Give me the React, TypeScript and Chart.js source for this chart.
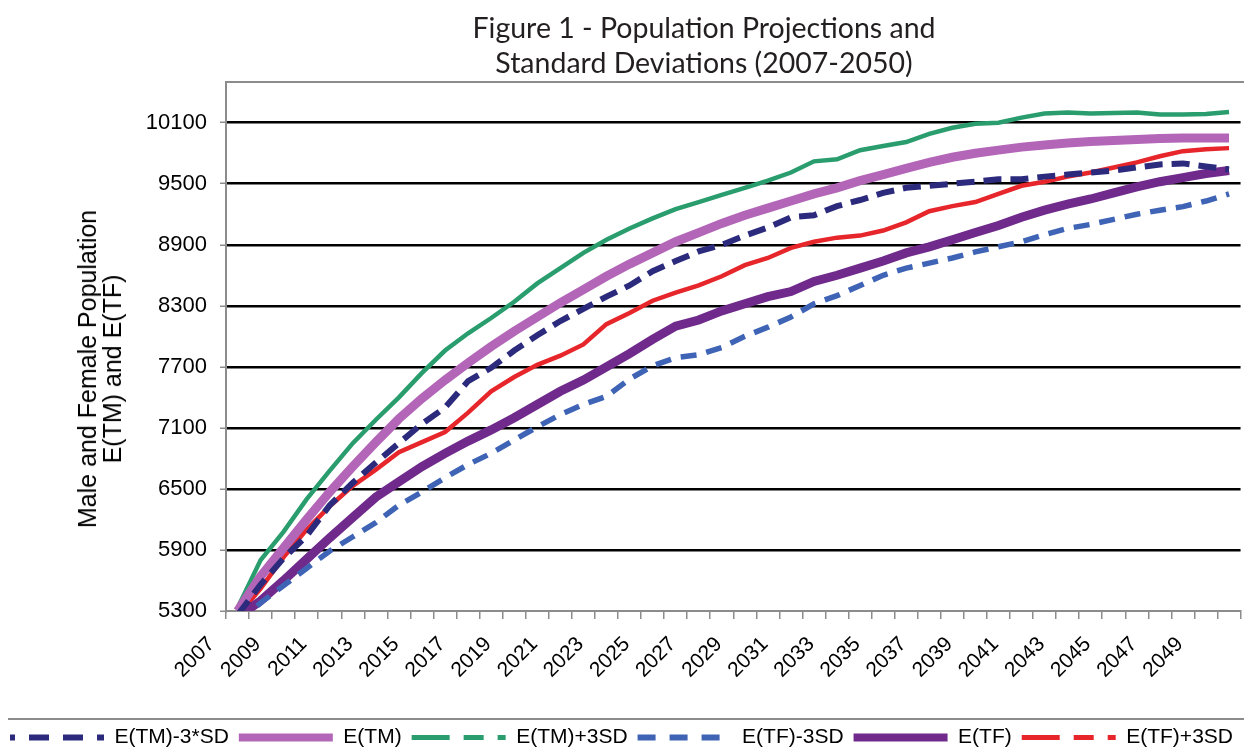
import React, { useEffect, useRef } from 'react';
import { Chart, registerables } from 'chart.js';

Chart.register(...registerables);

const YEARS = [
  '2007', '2008', '2009', '2010', '2011', '2012', '2013', '2014', '2015', '2016', '2017',
  '2018', '2019', '2020', '2021', '2022', '2023', '2024', '2025', '2026', '2027', '2028',
  '2029', '2030', '2031', '2032', '2033', '2034', '2035', '2036', '2037', '2038', '2039',
  '2040', '2041', '2042', '2043', '2044', '2045', '2046', '2047', '2048', '2049', '2050',
];

const TM_MINUS_3SD = [
  5260, 5560, 5820, 6040, 6340, 6560, 6760, 6950, 7140, 7300, 7560,
  7690, 7860, 8010, 8150, 8270, 8390, 8500, 8640, 8740, 8835, 8900,
  8990, 9070, 9170, 9190, 9280, 9340, 9410, 9460, 9480, 9500, 9520,
  9545, 9545, 9570, 9590, 9610, 9630, 9660, 9690, 9700, 9670, 9640,
];
const TM = [
  5300, 5640, 5920, 6200, 6470, 6720, 6960, 7190, 7390, 7570, 7740,
  7900, 8050, 8190, 8330, 8460, 8590, 8710, 8820, 8930, 9020, 9110,
  9190, 9260, 9330, 9400, 9460, 9530, 9590, 9650, 9710, 9760, 9800,
  9830, 9860, 9880, 9900, 9915, 9925, 9935, 9945, 9950, 9950, 9950,
];
const TM_PLUS_3SD = [
  5330, 5800, 6080, 6400, 6680, 6950, 7180, 7400, 7640, 7860, 8030,
  8180, 8340, 8520, 8670, 8820, 8950, 9060, 9160, 9250, 9320, 9390,
  9460, 9530, 9610, 9720, 9740, 9830, 9870, 9910, 9990, 10050, 10090,
  10100, 10150, 10190, 10200, 10190, 10195, 10200, 10180, 10180, 10185, 10205,
];
const TF_MINUS_3SD = [
  5180, 5380, 5550, 5720, 5890, 6030, 6170, 6340, 6470, 6610, 6740,
  6850, 6980, 7110, 7230, 7330, 7410, 7580, 7710, 7790, 7820, 7890,
  8000, 8090, 8190, 8320, 8400, 8500, 8600, 8670, 8720, 8770, 8830,
  8880, 8930, 9000, 9060, 9100, 9150, 9200, 9240, 9275, 9330, 9400,
];
const TF = [
  5240, 5400, 5600, 5810, 6020, 6220, 6420, 6570, 6720, 6850, 6970,
  7080, 7200, 7330, 7460, 7570, 7700, 7830, 7970, 8100, 8160, 8250,
  8320, 8390, 8440, 8540, 8600, 8670, 8740, 8820, 8880, 8950, 9020,
  9090, 9170, 9240, 9300, 9350, 9410, 9470, 9520, 9560, 9600, 9630,
];
const TF_PLUS_3SD = [
  5250, 5520, 5830, 6100, 6330, 6530, 6690, 6860, 6960, 7060, 7250,
  7460, 7600, 7720, 7810, 7920, 8120, 8230, 8350, 8430, 8500, 8590,
  8700, 8770, 8870, 8930, 8970, 8990, 9040, 9120, 9230, 9280, 9320,
  9400, 9480, 9520, 9570, 9610, 9660, 9710, 9770, 9820, 9840, 9850,
];

const Y_TICKS = [5300, 5900, 6500, 7100, 7700, 8300, 8900, 9500, 10100];
const SERIES_NAMES = ['E(TM)-3*SD', 'E(TM)', 'E(TM)+3SD', 'E(TF)-3SD', 'E(TF)', 'E(TF)+3SD'];
const TITLE_LINES = ['Figure 1 - Population Projections and', 'Standard Deviations (2007-2050)'];
const Y_TITLE_LINES = ['Male and Female Population', 'E(TM) and E(TF)'];

const COLORS = ['#2b2a7c', '#b366b8', '#2a9d6e', '#3f64b6', '#702a8c', '#e6262b'];
const WIDTHS = [6, 9, 4.5, 5.5, 9, 4.5];
const DASHES: number[][] = [[18, 9], [], [], [16, 10], [], []];
const LEGEND_DASHES: number[][] = [
  [20, 14],
  [],
  [38, 14, 20, 14, 8, 20],
  [18, 14],
  [],
  [38, 14, 20, 14, 8, 20],
];
const LEGEND_DASH_OFFSETS = [15, 0, 0, 0, 0, 0];
const LEGEND_WIDTHS = [6, 8, 5, 6, 8, 5];

const AXIS_FONT = 'Liberation Sans, Arial, sans-serif';

const framePlugin = {
  id: 'frameLines',
  afterDraw(chart: any) {
    const { ctx, chartArea } = chart;
    ctx.save();
    ctx.strokeStyle = '#8c8c8c';
    ctx.lineWidth = 2;
    ctx.beginPath();
    ctx.moveTo(chartArea.left, chartArea.top);
    ctx.lineTo(chart.width, chartArea.top);
    ctx.stroke();
    const lg = chart.legend;
    if (lg) {
      ctx.beginPath();
      ctx.moveTo(8, lg.top + 2);
      ctx.lineTo(chart.width, lg.top + 2);
      ctx.stroke();
    }
    ctx.restore();
  },
};

export default function App() {
  const canvasRef = useRef<HTMLCanvasElement | null>(null);

  useEffect(() => {
    const canvas = canvasRef.current;
    if (!canvas) return;
    const series = [TM_MINUS_3SD, TM, TM_PLUS_3SD, TF_MINUS_3SD, TF, TF_PLUS_3SD];
    const chart = new Chart(canvas, {
      type: 'line',
      data: {
        labels: YEARS,
        datasets: series.map((d, i) => ({
          label: SERIES_NAMES[i],
          data: d,
          borderColor: COLORS[i],
          backgroundColor: COLORS[i],
          borderWidth: WIDTHS[i],
          borderDash: DASHES[i],
          pointRadius: 0,
          pointHoverRadius: 0,
          tension: 0,
          fill: false,
          clip: 0,
        })),
      },
      plugins: [framePlugin],
      options: {
        responsive: false,
        animation: false,
        devicePixelRatio: 1,
        layout: { padding: { left: 0, right: 13, top: 82, bottom: 0 } },
        plugins: {
          title: { display: false },
          tooltip: { enabled: false },
          legend: {
            display: true,
            position: 'bottom',
            align: 'start',
            labels: {
              usePointStyle: true,
              pointStyle: 'line',
              pointStyleWidth: 94,
              padding: 10,
              color: '#000',
              font: { family: AXIS_FONT, size: 21 },
              generateLabels: (ch: any) => {
                const items = Chart.defaults.plugins.legend.labels.generateLabels(ch);
                return items.map((it: any, i: number) => ({
                  ...it,
                  pointStyle: 'line',
                  lineDash: LEGEND_DASHES[i],
                  lineDashOffset: LEGEND_DASH_OFFSETS[i],
                  lineWidth: LEGEND_WIDTHS[i],
                  lineCap: 'butt',
                }));
              },
            },
          },
        },
        scales: {
          x: {
            type: 'category',
            offset: true,
            afterFit: (scale: any) => {
              scale.height = 106;
            },
            grid: {
              display: true,
              drawOnChartArea: false,
              drawTicks: true,
              tickLength: 8,
              color: '#8c8c8c',
              lineWidth: 1.5,
              offset: true,
            },
            border: { display: true, color: '#8c8c8c', width: 2 },
            ticks: {
              autoSkip: false,
              minRotation: 45,
              maxRotation: 45,
              padding: 13,
              labelOffset: -26,
              color: '#000',
              font: { family: AXIS_FONT, size: 21 },
              callback: (_v: any, idx: number) => (idx % 2 === 0 ? YEARS[idx] : ''),
            },
          },
          y: {
            type: 'linear',
            min: 5300,
            max: 10500,
            afterFit: (scale: any) => {
              scale.width = 226;
            },
            afterBuildTicks: (scale: any) => {
              scale.ticks = Y_TICKS.map((v) => ({ value: v }));
            },
            grid: {
              display: true,
              drawTicks: true,
              tickLength: 6,
              tickColor: '#8c8c8c',
              tickWidth: 1.5,
              lineWidth: 2.5,
              color: (ctx: any) => (ctx.tick && ctx.tick.value === 5300 ? 'rgba(0,0,0,0)' : '#000'),
            },
            border: { display: true, color: '#8c8c8c', width: 2 },
            ticks: {
              padding: 13,
              color: '#000',
              font: { family: AXIS_FONT, size: 22 },
              callback: (v: any) => String(v),
            },
          },
        },
      },
    } as any);
    return () => chart.destroy();
  }, []);

  return (
    <div
      style={{
        position: 'fixed',
        left: 0,
        top: 0,
        width: 1244,
        height: 747,
        overflow: 'hidden',
        background: '#fff',
      }}
    >
      <canvas
        ref={canvasRef}
        width={1260}
        height={758}
        style={{ position: 'absolute', left: 0, top: 0, width: 1260, height: 758 }}
      />
      <div
        style={{
          position: 'absolute',
          left: 404,
          top: 10,
          width: 600,
          textAlign: 'center',
          fontFamily: 'Lato, "Open Sans", sans-serif',
          fontSize: 28.5,
          lineHeight: '35px',
          color: '#231f20',
          whiteSpace: 'nowrap',
        }}
      >
        {TITLE_LINES.map((t) => (
          <div key={t}>{t}</div>
        ))}
      </div>
      <div
        style={{
          position: 'absolute',
          left: 100,
          top: 369,
          transform: 'translate(-50%, -50%) rotate(-90deg)',
          fontFamily: AXIS_FONT,
          fontSize: 25,
          lineHeight: '25px',
          color: '#000',
          whiteSpace: 'nowrap',
          textAlign: 'center',
        }}
      >
        {Y_TITLE_LINES.map((t) => (
          <div key={t}>{t}</div>
        ))}
      </div>
    </div>
  );
}
